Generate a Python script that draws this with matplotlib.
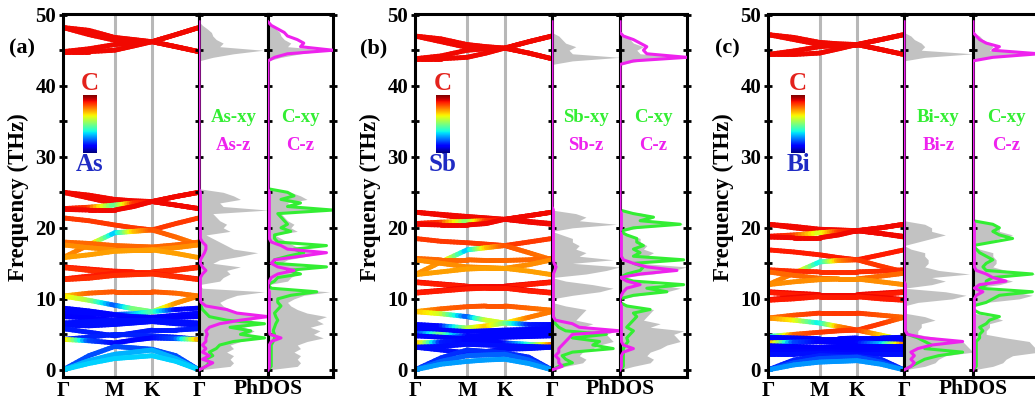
import matplotlib
matplotlib.use("Agg")
import matplotlib.pyplot as plt
import numpy as np
from matplotlib.collections import LineCollection
from matplotlib.ticker import MultipleLocator

plt.rcParams["font.family"] = ["Liberation Serif", "DejaVu Serif"]
plt.rcParams["font.weight"] = "bold"

# ---------------- data ----------------
# band path nodes: Gamma, mid, M, mid, K, mid, Gamma
k_nodes = [0.0, 0.19, 0.38, 0.52, 0.655, 0.83, 1.0]
k_ticks = [0.0, 0.38, 0.655, 1.0]
k_labels = ["Γ", "M", "K", "Γ"]

elements = ["As", "Sb", "Bi"]
letters = ["(a)", "(b)", "(c)"]

# band frequencies (THz) at k_nodes, and C weight (0 = metal, 1 = C)
bands_a = [
    [48.2, 47.8, 46.8, 46.5, 46.2, 47.2, 48.2],
    [48.2, 47.2, 46.4, 46.3, 46.2, 45.5, 44.8],
    [44.8, 45.2, 45.8, 46.0, 46.2, 47.2, 48.2],
    [44.8, 44.8, 45.0, 45.6, 46.2, 45.5, 44.8],
    [25.0, 24.6, 24.0, 23.8, 23.7, 24.4, 25.0],
    [25.0, 24.2, 23.4, 23.5, 23.7, 23.2, 22.7],
    [22.7, 22.9, 23.2, 23.5, 23.7, 24.4, 25.0],
    [22.6, 22.5, 22.5, 23.0, 23.7, 23.2, 22.7],
    [21.4, 21.0, 20.4, 20.0, 19.7, 20.6, 21.4],
    [15.8, 17.6, 19.3, 19.5, 19.7, 18.7, 17.6],
    [18.0, 17.8, 17.5, 17.4, 17.3, 17.6, 18.0],
    [17.6, 17.2, 16.9, 16.9, 16.9, 17.2, 17.6],
    [15.8, 16.2, 16.7, 16.8, 16.9, 16.4, 15.8],
    [14.5, 14.2, 13.9, 13.8, 13.8, 14.1, 14.5],
    [14.4, 14.0, 13.6, 13.6, 13.7, 14.0, 14.4],
    [12.8, 13.2, 13.6, 13.6, 13.6, 13.2, 12.8],
    [12.7, 12.9, 13.3, 13.4, 13.5, 13.1, 12.7],
    [10.4, 10.8, 11.0, 11.0, 11.0, 10.8, 10.4],
    [10.4, 9.8, 9.1, 8.6, 8.2, 9.4, 10.4],
    [8.7, 8.3, 7.8, 7.9, 8.2, 8.5, 8.7],
    [8.0, 7.9, 7.7, 7.5, 7.4, 7.7, 8.0],
    [7.5, 7.3, 7.0, 7.2, 7.4, 7.4, 7.5],
    [6.6, 6.8, 7.0, 7.0, 7.0, 6.8, 6.6],
    [6.3, 6.2, 6.4, 6.6, 6.8, 6.5, 6.3],
    [5.8, 5.3, 4.8, 5.2, 5.6, 5.6, 5.8],
    [4.3, 4.6, 5.0, 4.9, 4.8, 4.6, 4.3],
    [4.3, 4.1, 3.8, 4.2, 4.5, 4.4, 4.3],
    [0.0, 2.0, 3.3, 3.1, 2.9, 2.0, 0.0],
    [0.0, 1.3, 2.2, 2.5, 2.8, 1.6, 0.0],
    [0.0, 0.9, 1.6, 1.8, 2.0, 1.2, 0.0],
]
weights_a = [
    0.9, 0.9, 0.9, 0.9,
    0.9, 0.9, [0.9, 0.85, 0.45, 0.85, 0.9, 0.9, 0.9], 0.9,
    0.85, [0.76, 0.78, 0.3, 0.7, 0.82, 0.8, 0.78], 0.8, 0.76, 0.74,
    0.88, 0.86, 0.88, 0.86,
    [0.68, 0.8, 0.82, 0.82, 0.82, 0.8, 0.78],
    [0.68, 0.55, 0.2, 0.5, 0.5, 0.75, 0.78],
    [0.13, 0.13, 0.13, 0.3, 0.45, 0.13, 0.13], 0.13, 0.12, 0.14, 0.14, 0.15, 0.16,
    [0.75, 0.2, 0.13, 0.13, 0.13, 0.2, 0.75],
    0.2, 0.3, 0.33,
]

bands_b = [
    [47.0, 46.6, 45.8, 45.5, 45.3, 46.2, 47.0],
    [47.0, 46.2, 45.4, 45.3, 45.3, 44.6, 43.8],
    [43.8, 44.2, 45.0, 45.2, 45.3, 46.2, 47.0],
    [43.8, 43.8, 44.0, 44.6, 45.3, 44.6, 43.8],
    [22.2, 21.9, 21.6, 21.4, 21.2, 21.7, 22.2],
    [22.2, 21.8, 21.3, 21.2, 21.2, 20.9, 20.6],
    [20.6, 20.8, 20.9, 21.0, 21.2, 21.7, 22.2],
    [20.5, 20.4, 20.4, 20.6, 21.2, 20.8, 20.5],
    [18.5, 18.1, 17.9, 17.7, 17.5, 18.0, 18.5],
    [13.4, 15.2, 16.9, 17.2, 17.5, 16.5, 15.5],
    [15.7, 15.5, 15.5, 15.4, 15.4, 15.5, 15.7],
    [15.5, 15.0, 14.5, 14.4, 14.3, 14.8, 15.5],
    [13.4, 13.8, 14.2, 14.3, 14.3, 13.9, 13.4],
    [12.4, 12.1, 11.8, 11.8, 11.8, 12.1, 12.4],
    [12.3, 12.0, 11.7, 11.6, 11.6, 12.0, 12.3],
    [10.9, 11.2, 11.6, 11.6, 11.6, 11.2, 10.9],
    [10.8, 11.1, 11.4, 11.5, 11.5, 11.1, 10.8],
    [8.2, 8.6, 8.9, 9.0, 9.0, 8.7, 8.4],
    [8.2, 7.9, 7.5, 7.0, 6.6, 7.4, 8.2],
    [6.4, 6.2, 5.9, 6.2, 6.6, 6.4, 6.4],
    [5.8, 5.6, 5.4, 5.5, 5.6, 5.7, 5.8],
    [5.2, 5.0, 4.7, 4.9, 5.0, 5.1, 5.2],
    [4.8, 4.6, 4.4, 4.5, 4.6, 4.7, 4.8],
    [3.8, 3.9, 4.2, 4.0, 3.8, 3.6, 3.6],
    [3.2, 3.3, 3.6, 3.5, 3.4, 3.3, 3.2],
    [3.2, 2.8, 2.4, 2.6, 2.9, 3.0, 3.2],
    [0.0, 1.7, 2.8, 2.6, 2.4, 1.8, 0.0],
    [0.0, 1.2, 2.0, 2.1, 2.2, 1.4, 0.0],
    [0.0, 0.8, 1.2, 1.4, 1.5, 0.9, 0.0],
]
weights_b = [
    0.9, 0.9, 0.9, 0.9,
    0.9, 0.9, [0.9, 0.85, 0.5, 0.85, 0.9, 0.9, 0.9], 0.9,
    0.85, [0.76, 0.75, 0.3, 0.7, 0.82, 0.8, 0.78], 0.8, 0.76, 0.74,
    0.9, 0.88, 0.9, 0.88,
    [0.72, 0.8, 0.82, 0.82, 0.82, 0.8, 0.78],
    [0.72, 0.6, 0.2, 0.6, 0.6, 0.78, 0.78],
    [0.13, 0.13, 0.55, 0.7, 0.5, 0.15, 0.13], 0.13,
    [0.13, 0.5, 0.13, 0.13, 0.13, 0.13, 0.13], 0.13,
    [0.8, 0.15, 0.13, 0.13, 0.13, 0.4, 0.8], 0.14, 0.14,
    0.17, 0.22, 0.28,
]

bands_c = [
    [47.2, 46.8, 46.1, 45.9, 45.8, 46.5, 47.2],
    [47.2, 46.5, 45.8, 45.8, 45.8, 45.1, 44.4],
    [44.4, 44.9, 45.5, 45.7, 45.8, 46.5, 47.2],
    [44.4, 44.4, 44.6, 45.2, 45.8, 45.1, 44.4],
    [20.5, 20.2, 19.8, 19.7, 19.6, 20.0, 20.5],
    [20.5, 20.0, 19.6, 19.6, 19.6, 19.2, 18.8],
    [18.8, 19.0, 19.3, 19.5, 19.6, 20.0, 20.5],
    [18.7, 18.6, 18.6, 19.0, 19.6, 19.2, 18.7],
    [16.9, 16.6, 16.2, 15.8, 15.5, 16.2, 16.9],
    [12.0, 13.6, 15.2, 15.4, 15.5, 14.6, 13.8],
    [14.1, 13.9, 13.8, 13.8, 13.8, 13.9, 14.1],
    [13.8, 13.3, 12.9, 12.8, 12.8, 13.2, 13.6],
    [12.0, 12.4, 12.7, 12.8, 12.8, 12.4, 12.0],
    [11.0, 10.8, 10.6, 10.6, 10.6, 10.8, 11.0],
    [10.9, 10.6, 10.4, 10.4, 10.4, 10.6, 10.9],
    [9.9, 10.2, 10.5, 10.5, 10.5, 10.2, 9.9],
    [9.8, 10.0, 10.3, 10.3, 10.3, 10.0, 9.8],
    [7.3, 7.7, 8.0, 8.0, 8.0, 7.7, 7.4],
    [7.3, 7.0, 6.6, 6.1, 5.6, 6.5, 7.4],
    [4.7, 5.0, 5.3, 5.5, 5.6, 4.9, 4.2],
    [4.6, 4.5, 4.4, 4.4, 4.5, 4.5, 4.6],
    [4.3, 4.2, 4.1, 4.2, 4.3, 4.3, 4.3],
    [3.8, 3.9, 4.0, 3.9, 3.8, 3.7, 3.6],
    [3.4, 3.3, 3.2, 3.3, 3.4, 3.4, 3.4],
    [3.0, 2.9, 2.8, 2.8, 2.9, 2.9, 3.0],
    [2.6, 2.6, 2.6, 2.5, 2.4, 2.5, 2.6],
    [2.2, 2.2, 2.3, 2.2, 2.1, 2.2, 2.2],
    [0.0, 1.4, 2.0, 1.9, 1.9, 1.5, 0.0],
    [0.0, 1.0, 1.6, 1.7, 1.8, 1.1, 0.0],
    [0.0, 0.7, 1.1, 1.2, 1.3, 0.8, 0.0],
]
weights_c = [
    0.9, 0.9, 0.9, 0.9,
    0.9, 0.9, [0.9, 0.85, 0.6, 0.85, 0.9, 0.9, 0.9], 0.9,
    0.88, [0.76, 0.78, 0.35, 0.75, 0.85, 0.85, 0.85], 0.86, 0.8, 0.76,
    0.9, 0.88, 0.9, 0.88,
    [0.78, 0.82, 0.85, 0.85, 0.85, 0.82, 0.8],
    [0.78, 0.65, 0.35, 0.75, 0.85, 0.85, 0.8],
    [0.3, 0.8, 0.85, 0.85, 0.85, 0.7, 0.45],
    0.13, 0.12, [0.8, 0.2, 0.12, 0.12, 0.12, 0.3, 0.8], 0.12, 0.12, 0.13, 0.14,
    0.16, 0.2, 0.27,
]

# phonon DOS on a 0.5 THz grid: 0-12 | 12.5-26 | gap | 43-49
dos_freq = np.arange(0, 49.5, 0.5)
gap = [0] * 33

tot_a = ([0, 0.45, 0.5, 0.45, 0.5, 0.4, 0.5, 0.45, 0.6, 0.85, 0.7, 0.8, 0.65, 0.85, 0.75, 0.9, 0.6, 0.45, 0.35, 0.3, 0.4, 0.55, 0.95, 0.05, 0]
         + [0.3, 0.35, 0.45, 0.4, 0.6, 0.2, 0.3, 0.6, 0.85, 0.5, 0.4, 0.3, 0.2, 0.1, 0.45, 0.35, 0.4, 0.3, 0.25, 0.2, 1.0, 0.35, 0.3, 0.6, 0.5, 0.35, 0, 0]
         + gap + [0, 0, 0.2, 0.5, 0.93, 0.3, 0.35, 0.25, 0.2, 0.18, 0.12, 0.05, 0])
el_xy_a = ([0, 0.1, 0.15, 0.1, 0.2, 0.15, 0.25, 0.3, 0.5, 0.95, 0.6, 0.75, 0.45, 0.95, 0.4, 0.15, 0.1, 0.05, 0.03, 0.02, 0.02, 0.02, 0.02, 0.02, 0]
           + [0] * 28 + gap + [0] * 13)
el_z_a = ([0, 0.1, 0.2, 0.05, 0.15, 0.05, 0.1, 0.05, 0.1, 0.1, 0.12, 0.1, 0.15, 0.3, 0.6, 1.0, 0.55, 0.4, 0.1, 0.03, 0.02, 0.02, 0.02, 0.02, 0.02]
          + [0.02, 0.02, 0.05, 0.1, 0.05, 0.02, 0.02, 0.05, 0.08, 0.1, 0.1, 0.05] + [0.02] * 14 + [0, 0]
          + gap + [0] * 13)
c_xy_a = ([0, 0.05, 0.05, 0.05, 0.05, 0.05, 0.05, 0.05, 0.08, 0.1, 0.1, 0.08, 0.1, 0.12, 0.15, 0.12, 0.1, 0.15, 0.2, 0.15, 0.15, 0.35, 0.75, 0.05, 0]
          + [0.1, 0.15, 0.5, 0.3, 0.9, 0.1, 0.1, 0.3, 0.55, 0.4, 0.9, 0.15, 0.1, 0.1, 0.35, 0.2, 0.3, 0.25, 0.2, 0.15, 1.0, 0.3, 0.5, 0.2, 0.4, 0.3, 0, 0]
          + gap + [0] * 13)
c_z_a = ([0, 0.02, 0.02, 0.02, 0.02, 0.02, 0.02, 0.02, 0.05, 0.2, 0.03, 0.02, 0.02, 0.02, 0.02, 0.02, 0.02, 0.02, 0.02, 0.02, 0.02, 0.02, 0.02, 0, 0]
         + [0.02, 0.05, 0.15, 0.4, 0.15, 0.05, 0.1, 0.5, 0.9, 0.3, 0.2, 0.05] + [0.02] * 14 + [0, 0]
         + gap + [0, 0, 0.1, 0.3, 1.0, 0.5, 0.55, 0.45, 0.3, 0.25, 0.15, 0.05, 0])

tot_b = ([0, 0.2, 0.45, 0.5, 0.4, 0.45, 0.6, 0.7, 0.9, 0.85, 0.8, 0.95, 0.45, 0.6, 0.35, 0.4, 0.45, 0.5, 0.2, 0, 0, 0.3, 0.7, 0.9, 0.6]
         + [0.2, 0, 0.5, 0.8, 1.0, 0.3, 0.9, 0.4, 0.5, 0.35, 0.4, 0.3, 0.3, 0.15, 0, 0.3, 0.95, 0.4, 0.5, 0.35, 0] + [0] * 7
         + gap + [0, 0.3, 1.0, 0.3, 0.25, 0.35, 0.2, 0.15, 0.1, 0, 0, 0, 0])
el_xy_b = ([0, 0.1, 0.3, 0.2, 0.15, 0.3, 0.9, 0.6, 0.7, 0.3, 0.8, 0.2, 0.1, 0.05, 0.03] + [0.02] * 10
           + [0] * 28 + gap + [0] * 13)
el_z_b = ([0, 0.15, 0.1, 0.1, 0.05, 0.1, 0.1, 0.15, 0.2, 0.25, 0.3, 1.0, 0.4, 0.3, 0.05] + [0.02] * 10
          + [0.02, 0.02, 0.02, 0.04, 0.06, 0.03] + [0.02] * 15 + [0] * 7
          + gap + [0] * 13)
c_xy_b = ([0, 0.05, 0.05, 0.05, 0.05, 0.05, 0.05, 0.08, 0.12, 0.1, 0.15, 0.2, 0.1, 0.15, 0.2, 0.25, 0.2, 0.45, 0.1, 0, 0, 0.2, 0.7, 0.4, 0.95]
          + [0.2, 0, 0.1, 0.3, 0.35, 0.2, 0.95, 0.2, 0.3, 0.2, 0.35, 0.25, 0.25, 0.1, 0, 0.2, 0.9, 0.3, 0.5, 0.2, 0] + [0] * 7
          + gap + [0] * 13)
c_z_b = ([0, 0.02, 0.02, 0.02, 0.02, 0.05, 0.2, 0.05, 0.02, 0.02, 0.02, 0.02, 0.02, 0.02, 0.02, 0.02, 0.02, 0.02, 0.02, 0, 0, 0.02, 0.05, 0.1, 0.3]
         + [0.1, 0, 0.3, 0.85, 0.4, 0.2, 0.05, 0.02, 0.02, 0.02, 0.02, 0.02, 0.02, 0.02, 0, 0.02, 0.02, 0.02, 0.02, 0.02, 0] + [0] * 7
         + gap + [0, 0.2, 1.0, 0.4, 0.35, 0.4, 0.3, 0.2, 0.05, 0, 0, 0, 0])

tot_c = ([0, 0.3, 0.45, 0.5, 0.6, 1.0, 0.95, 0.9, 0.85, 0.5, 0.2, 0.2, 0.25, 0.25, 0.45, 0.3, 0, 0, 0, 0.2, 0.7, 0.9, 0.6, 0, 0.4]
         + [0.6, 0.4, 0.95, 0.5, 0.3, 0.35, 0.35, 0.3, 0.3, 0.1, 0, 0.2, 0.4, 0.6, 0.4, 0.4, 0.3, 0] + [0] * 10
         + gap + [0, 0, 0.3, 1.0, 0.25, 0.3, 0.25, 0.15, 0.1, 0, 0, 0, 0])
el_xy_c = ([0, 0.1, 0.2, 0.3, 0.5, 0.85, 0.3, 0.4, 0.3, 0.2, 0.05] + [0.02] * 14
           + [0] * 28 + gap + [0] * 13)
el_z_c = ([0, 0.1, 0.15, 0.1, 0.15, 0.1, 0.2, 0.4, 0.85, 0.3, 0.05] + [0.02] * 14
          + [0] * 28 + gap + [0] * 13)
c_xy_c = ([0, 0.05, 0.05, 0.05, 0.05, 0.05, 0.05, 0.05, 0.05, 0.1, 0.1, 0.15, 0.1, 0.2, 0.25, 0.4, 0.1, 0, 0, 0.2, 0.3, 0.4, 0.9, 0.1, 0.2]
          + [0.2, 0.3, 0.9, 0.2, 0.15, 0.2, 0.3, 0.2, 0.1, 0.05, 0, 0.3, 0.6, 0.4, 0.3, 0.4, 0.3, 0] + [0] * 10
          + gap + [0] * 13)
c_z_c = ([0] + [0.02] * 20 + [0.05, 0.15, 0.02, 0.1]
         + [0.5, 0.3, 0.2, 0.05] + [0.02] * 13 + [0] * 11
         + gap + [0, 0, 0.3, 1.0, 0.3, 0.4, 0.2, 0.1, 0.05, 0, 0, 0, 0])

all_bands = [(bands_a, weights_a), (bands_b, weights_b), (bands_c, weights_c)]
all_dos = [
    (tot_a, el_xy_a, el_z_a, c_xy_a, c_z_a),
    (tot_b, el_xy_b, el_z_b, c_xy_b, c_z_b),
    (tot_c, el_xy_c, el_z_c, c_xy_c, c_z_c),
]

# ---------------- layout (pixels of a 1035x405 canvas) ----------------
W, H = 1035, 405
TOP, BOTTOM = 14, 377
panel_px = [(63, 199, 268, 333), (415, 552, 620, 687), (768, 904, 973, 1039)]
cbar_px = [83, 436, 791]

GREEN = "#33ee33"
MAGENTA = "#ee22ee"
GREY = "#c2c2c2"
YLIM = (-1.0, 50.1)


def add_ax(fig, x0, x1):
    return fig.add_axes([x0 / W, (H - BOTTOM) / H, (x1 - x0) / W, (BOTTOM - TOP) / H])


def style_frame(ax):
    for sp in ax.spines.values():
        sp.set_linewidth(2.2)
    ax.set_ylim(*YLIM)


def draw_bands(ax, bands, weights):
    cmap = plt.get_cmap("jet")
    t = np.linspace(0, 1, 9)
    segs, cols = [], []
    for freq, w in zip(bands, weights):
        freq = np.asarray(freq, float)
        w = np.broadcast_to(np.asarray(w, float), freq.shape)
        for i in range(len(k_nodes) - 1):
            xs = k_nodes[i] + t * (k_nodes[i + 1] - k_nodes[i])
            ys = freq[i] + t * (freq[i + 1] - freq[i])
            ws = w[i] + t * (w[i + 1] - w[i])
            for j in range(len(t) - 1):
                segs.append([(xs[j], ys[j]), (xs[j + 1], ys[j + 1])])
                cols.append(0.5 * (ws[j] + ws[j + 1]))
    lc = LineCollection(segs, colors=cmap(np.array(cols)), linewidths=3.5,
                        capstyle="round", joinstyle="round", zorder=2)
    ax.add_collection(lc)


fig = plt.figure(figsize=(W / 100, H / 100), dpi=100)

for g in range(3):
    xb, xd1, xd2, xd3 = panel_px[g]
    bands, weights = all_bands[g]
    tot, el_xy, el_z, c_xy, c_z = all_dos[g]

    # band structure
    ax = add_ax(fig, xb, xd1)
    style_frame(ax)
    ax.set_xlim(0, 1)
    for k in k_ticks[1:-1]:
        ax.axvline(k, color="#b8b8b8", lw=2.2, zorder=1)
    draw_bands(ax, bands, weights)
    ax.set_xticks(k_ticks)
    ax.set_xticklabels(k_labels)
    ax.tick_params(axis="x", length=0, labelsize=15, pad=3)
    ax.yaxis.set_major_locator(MultipleLocator(10))
    ax.yaxis.set_minor_locator(MultipleLocator(5))
    ax.yaxis.set_ticks_position("left")
    ax.tick_params(axis="y", which="both", direction="inout", length=6, width=2,
                   labelsize=15, pad=2)

    # projected DOS panels
    for x0, x1, xy, z in [(xd1, xd2, el_xy, el_z), (xd2, xd3, c_xy, c_z)]:
        d = add_ax(fig, x0, x1)
        style_frame(d)
        d.set_xlim(0, 1)
        d.fill_betweenx(dos_freq, 0, tot, color=GREY, lw=0, zorder=1)
        d.plot(xy, dos_freq, color=GREEN, lw=2.2, zorder=2)
        d.plot(z, dos_freq, color=MAGENTA, lw=2.2, zorder=3)
        d.set_xticks([])
        d.yaxis.set_major_locator(MultipleLocator(5))
        d.yaxis.set_ticks_position("both")
        d.tick_params(axis="y", direction="inout", length=6, width=2,
                      labelleft=False, labelright=False)

    # DOS legends
    fig.text((xd1 + xd2) / 2 / W, 1 - 118 / H, elements[g] + "-xy", color=GREEN,
             fontsize=13.5, ha="center", va="center")
    fig.text((xd1 + xd2) / 2 / W, 1 - 145 / H, elements[g] + "-z", color=MAGENTA,
             fontsize=13.5, ha="center", va="center")
    fig.text((xd2 + xd3) / 2 / W, 1 - 118 / H, "C-xy", color=GREEN,
             fontsize=13.5, ha="center", va="center")
    fig.text((xd2 + xd3) / 2 / W, 1 - 145 / H, "C-z", color=MAGENTA,
             fontsize=13.5, ha="center", va="center")
    fig.text(xd2 / W, 1 - 389 / H, "PhDOS", fontsize=15.5, ha="center", va="center")

    # colour scale
    cx = cbar_px[g]
    cb = fig.add_axes([cx / W, (H - 153) / H, 14 / W, 58 / H])
    cb.imshow(np.linspace(0.1, 0.92, 100)[:, None], cmap="jet", aspect="auto",
              origin="lower")
    cb.axis("off")
    fig.text((cx + 7) / W, 1 - 84 / H, "C", color="#e3221c", fontsize=18,
             ha="center", va="center")
    fig.text((cx + 7) / W, 1 - 164 / H, elements[g], color="#1f2bc4", fontsize=18,
             ha="center", va="center")

    # panel letter and axis title
    fig.text((xb - 41) / W, 1 - 48 / H, letters[g], fontsize=16, ha="center", va="center")
    fig.text((xb - 45) / W, 1 - 197 / H, "Frequency (THz)", fontsize=16.5,
             rotation=90, ha="center", va="center")

fig.savefig("out.png", dpi=100)
